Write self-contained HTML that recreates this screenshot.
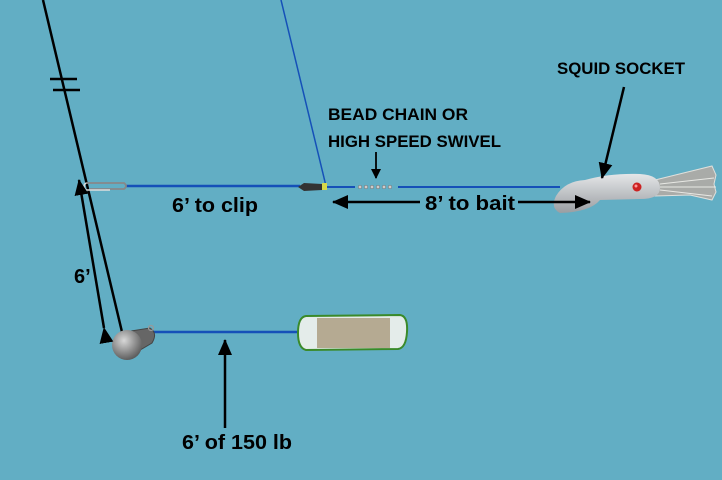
<!DOCTYPE html>
<html><head><meta charset="utf-8"><style>
html,body{margin:0;padding:0;background:#62aec4;}
svg{display:block;}
text{font-family:"Liberation Sans",Arial,sans-serif;font-weight:bold;fill:#000;}
</style></head><body>
<svg width="722" height="480" viewBox="0 0 722 480" xmlns="http://www.w3.org/2000/svg">
<defs>
<marker id="ah" markerWidth="10" markerHeight="10" refX="9" refY="5" orient="auto" markerUnits="userSpaceOnUse" viewBox="0 0 10 10">
<path d="M0,0 L10,5 L0,10 Z" fill="#000"/></marker>
<marker id="ahL" markerWidth="16" markerHeight="14" refX="15" refY="7" orient="auto" markerUnits="userSpaceOnUse" viewBox="0 0 16 14">
<path d="M0,0 L16,7 L0,14 Z" fill="#000"/></marker>
<linearGradient id="sq" x1="0" y1="0" x2="0" y2="1"><stop offset="0" stop-color="#e4e6e8"/><stop offset="1" stop-color="#9a9ea2"/></linearGradient>
<radialGradient id="sk" cx="0.4" cy="0.35" r="0.7"><stop offset="0" stop-color="#d8d8d8"/><stop offset="1" stop-color="#555"/></radialGradient>
</defs>
<rect width="722" height="480" fill="#62aec4"/>
<line x1="43" y1="0" x2="122" y2="332" stroke="#000" stroke-width="2.5"/>
<line x1="50" y1="79" x2="77" y2="79" stroke="#000" stroke-width="2.5"/>
<line x1="53" y1="90" x2="80" y2="90" stroke="#000" stroke-width="2.5"/>
<line x1="281" y1="0" x2="326" y2="186" stroke="#1550b8" stroke-width="1.5"/>
<line x1="125" y1="186" x2="300" y2="186" stroke="#1550b8" stroke-width="2.5"/>
<line x1="326" y1="187" x2="355" y2="187" stroke="#1550b8" stroke-width="2"/>
<line x1="398" y1="187" x2="560" y2="187" stroke="#1550b8" stroke-width="2"/>
<line x1="152" y1="332" x2="300" y2="332" stroke="#1550b8" stroke-width="2.5"/>
<path d="M86,183 L124,183 Q128,186 124,189 L90,189" fill="none" stroke="#888" stroke-width="1.8"/>
<path d="M86,183 Q82,186 86,190 L110,190" fill="none" stroke="#ddd" stroke-width="1.5"/>
<path d="M298,187 L304,183 L322,184 L322,190 L304,191 Z" fill="#333"/>
<rect x="322" y="183" width="5" height="7" fill="#d6d84a"/>
<g fill="#ccc" stroke="#666" stroke-width="0.5">
<circle cx="360" cy="187" r="1.8"/><circle cx="366" cy="187" r="1.8"/><circle cx="372" cy="187" r="1.8"/><circle cx="378" cy="187" r="1.8"/><circle cx="384" cy="187" r="1.8"/><circle cx="390" cy="187" r="1.8"/></g>
<g>
<path d="M655,180 L712,166 L716,175 L714,184 L716,192 L712,200 L690,195 L655,196 Z" fill="#a9aba8" stroke="#e0e0dc" stroke-width="1"/>
<path d="M660,184 L714,178 M660,190 L712,196 M660,187 L716,187" stroke="#e8e8e4" stroke-width="1"/>
<path d="M585,180 Q610,173 640,174 Q660,175 660,188 Q660,199 640,199 L600,200 Q590,212 560,213 Q550,208 556,196 Q565,181 585,180 Z" fill="url(#sq)"/>
<circle cx="637" cy="187" r="4.5" fill="#c22"/>
<circle cx="636" cy="186" r="1.5" fill="#f99"/>
</g>
<path d="M125,332 L150,328 Q158,333 152,343 L130,356 Z" fill="#666" stroke="#444"/>
<circle cx="127" cy="345" r="15" fill="url(#sk)"/>
<circle cx="151" cy="328" r="2.5" fill="none" stroke="#999" stroke-width="1.2"/>
<path d="M306,316 L400,315 Q408,316 407,332 Q406,348 398,349 L306,350 Q298,348 298,333 Q298,317 306,316 Z" fill="#e4ecea" stroke="#3a8a2a" stroke-width="2"/>
<rect x="317" y="318" width="73" height="30" fill="#b5aa92"/>
<line x1="376" y1="152" x2="376" y2="178" stroke="#000" stroke-width="1.8" marker-end="url(#ah)"/>
<line x1="624" y1="87" x2="602" y2="178" stroke="#000" stroke-width="2.5" marker-end="url(#ahL)"/>
<line x1="420" y1="202" x2="333" y2="202" stroke="#000" stroke-width="2.5" marker-end="url(#ahL)"/>
<line x1="518" y1="202" x2="590" y2="202" stroke="#000" stroke-width="2.5" marker-end="url(#ahL)"/>
<line x1="225" y1="428" x2="225" y2="340" stroke="#000" stroke-width="2.5" marker-end="url(#ahL)"/>
<line x1="104" y1="328" x2="79" y2="180" stroke="#000" stroke-width="2.5" marker-end="url(#ahL)" marker-start="url(#ahL)"/>
<text x="172" y="212" font-size="20" textLength="86" lengthAdjust="spacingAndGlyphs">6’ to clip</text>
<text x="425" y="210" font-size="20" textLength="90" lengthAdjust="spacingAndGlyphs">8’ to bait</text>
<text x="182" y="449" font-size="20" textLength="110" lengthAdjust="spacingAndGlyphs">6’ of 150 lb</text>
<text x="74" y="283" font-size="20">6’</text>
<text x="557" y="74" font-size="17" textLength="128" lengthAdjust="spacingAndGlyphs">SQUID SOCKET</text>
<text x="328" y="120" font-size="17" textLength="140" lengthAdjust="spacingAndGlyphs">BEAD CHAIN OR</text>
<text x="328" y="147" font-size="17" textLength="173" lengthAdjust="spacingAndGlyphs">HIGH SPEED SWIVEL</text>
</svg>
</body></html>
